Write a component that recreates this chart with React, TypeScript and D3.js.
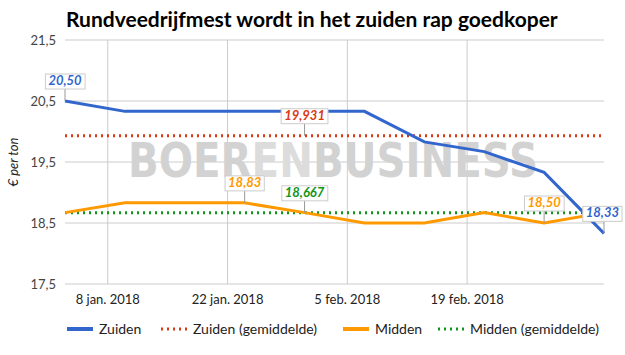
import React, { useEffect, useRef } from 'react';
import * as d3 from 'd3';

// weekly prices (€ per ton)
const dates = ['2018-01-03', '2018-01-10', '2018-01-17', '2018-01-24', '2018-01-31', '2018-02-07', '2018-02-14', '2018-02-21', '2018-02-28', '2018-03-07'];
const zuiden = [20.5, 20.33, 20.33, 20.33, 20.33, 20.33, 19.83, 19.67, 19.33, 18.33];
const midden = [18.67, 18.83, 18.83, 18.83, 18.67, 18.5, 18.5, 18.67, 18.5, 18.67];
const yTicks = [17.5, 18.5, 19.5, 20.5, 21.5];
const xTicks = ['2018-01-08', '2018-01-22', '2018-02-05', '2018-02-19'];
const seriesNames = ['Zuiden', 'Zuiden (gemiddelde)', 'Midden', 'Midden (gemiddelde)'];

const W = 625;
const H = 355;
const FONT = 'Lato, "DejaVu Sans", sans-serif';

const nl = (v: number, d: number) => v.toFixed(d).replace('.', ',');
const parse = d3.timeParse('%Y-%m-%d');
const months = ['jan.', 'feb.', 'mrt.', 'apr.', 'mei', 'jun.', 'jul.', 'aug.', 'sep.', 'okt.', 'nov.', 'dec.'];

const App = () => {
  const ref = useRef<SVGSVGElement>(null);

  useEffect(() => {
    const svg = d3.select(ref.current);
    svg.selectAll('*').remove();

    const margin = { top: 40, right: 21, bottom: 71, left: 65 };
    const x = d3.scaleTime()
      .domain([parse(dates[0])!, parse(dates[dates.length - 1])!])
      .range([margin.left, W - margin.right]);
    const y = d3.scaleLinear()
      .domain([17.5, 21.5])
      .range([H - margin.bottom, margin.top]);

    const colors = ['#3366cc', '#dc3912', '#ff9900', '#109618'];

    // title
    svg.append('text')
      .attr('x', 66)
      .attr('y', 27)
      .attr('font-family', FONT)
      .attr('font-weight', 'bold')
      .attr('font-size', 21)
      .attr('fill', '#000')
      .text('Rundveedrijfmest wordt in het zuiden rap goedkoper');

    // grid
    const grid = svg.append('g');
    grid.selectAll('line.h')
      .data(yTicks)
      .join('line')
      .attr('x1', margin.left)
      .attr('x2', W - margin.right)
      .attr('y1', d => y(d))
      .attr('y2', d => y(d))
      .attr('stroke', '#cccccc');
    grid.selectAll('line.v')
      .data(xTicks)
      .join('line')
      .attr('x1', d => x(parse(d)!))
      .attr('x2', d => x(parse(d)!))
      .attr('y1', margin.top)
      .attr('y2', H - margin.bottom)
      .attr('stroke', '#cccccc');

    // axis labels
    svg.append('g')
      .selectAll('text')
      .data(yTicks)
      .join('text')
      .attr('x', 56)
      .attr('y', d => y(d) + 4.5)
      .attr('text-anchor', 'end')
      .attr('font-family', FONT)
      .attr('font-size', 13)
      .attr('fill', '#444')
      .text(d => nl(d, 1));

    svg.append('g')
      .selectAll('text')
      .data(xTicks)
      .join('text')
      .attr('x', d => x(parse(d)!))
      .attr('y', 304)
      .attr('text-anchor', 'middle')
      .attr('font-family', FONT)
      .attr('font-size', 13)
      .attr('fill', '#222')
      .text(d => {
        const t = parse(d)!;
        return `${t.getDate()} ${months[t.getMonth()]} ${t.getFullYear()}`;
      });

    svg.append('text')
      .attr('transform', `translate(18,${y(19.5)}) rotate(-90)`)
      .attr('text-anchor', 'middle')
      .attr('font-family', FONT)
      .attr('font-style', 'italic')
      .attr('font-size', 13)
      .attr('fill', '#222')
      .text('€ per ton');

    // watermark
    const wm = svg.append('text')
      .attr('x', 128)
      .attr('y', 177)
      .attr('font-family', '"DejaVu Sans", sans-serif')
      .attr('font-size', 48)
      .attr('font-weight', 'bold')
      .attr('fill', '#d2d2d2')
      .attr('textLength', 410)
      .attr('lengthAdjust', 'spacingAndGlyphs');
    wm.append('tspan').text('BOER');
    wm.append('tspan').attr('fill', '#dcdcdc').text('EN');
    wm.append('tspan').text('BUSINESS');

    // lines
    const zAvg = d3.mean(zuiden)!;
    const mAvg = d3.mean(midden)!;
    const line = d3.line<number>()
      .x((_, i) => x(parse(dates[i])!))
      .y(d => y(d));

    const avgLine = (v: number, c: string) => svg.append('line')
      .attr('x1', margin.left)
      .attr('x2', W - margin.right)
      .attr('y1', y(v))
      .attr('y2', y(v))
      .attr('stroke', c)
      .attr('stroke-width', 3)
      .attr('stroke-dasharray', '2,4');

    avgLine(zAvg, colors[1]);
    avgLine(mAvg, colors[3]);

    svg.append('path')
      .attr('d', line(zuiden))
      .attr('fill', 'none')
      .attr('stroke', colors[0])
      .attr('stroke-width', 3);
    svg.append('path')
      .attr('d', line(midden))
      .attr('fill', 'none')
      .attr('stroke', colors[2])
      .attr('stroke-width', 3);

    // annotations
    const notes = [
      { i: 0, v: zuiden[0], t: nl(zuiden[0], 2), c: colors[0] },
      { i: 4, v: zAvg, t: nl(zAvg, 3), c: colors[1] },
      { i: 3, v: midden[3], t: nl(midden[3], 2), c: colors[2] },
      { i: 4, v: mAvg, t: nl(mAvg, 3), c: colors[3] },
      { i: 8, v: midden[8], t: nl(midden[8], 2), c: colors[2] },
      { i: 9, v: zuiden[9], t: nl(zuiden[9], 2), c: colors[0] },
    ];
    notes.forEach(n => {
      const px = x(parse(dates[n.i])!);
      const py = y(n.v);
      const g = svg.append('g');
      g.append('line')
        .attr('x1', px).attr('x2', px)
        .attr('y1', py).attr('y2', py - 12)
        .attr('stroke', '#999');
      const txt = g.append('text')
        .attr('x', px)
        .attr('y', py - 16)
        .attr('text-anchor', 'middle')
        .attr('font-family', FONT)
        .attr('font-size', 13)
        .attr('font-style', 'italic')
        .attr('font-weight', 'bold')
        .attr('fill', n.c)
        .text(n.t);
      let bb = (txt.node() as SVGTextElement).getBBox();
      const over = bb.x + bb.width + 4 - (W - 2);
      if (over > 0) {
        txt.attr('x', px - over);
        bb = (txt.node() as SVGTextElement).getBBox();
      }
      g.insert('rect', 'text')
        .attr('x', bb.x - 3)
        .attr('y', py - 27)
        .attr('width', bb.width + 6)
        .attr('height', 15)
        .attr('fill', '#fff')
        .attr('stroke', '#cccccc');
    });

    // legend
    const legX = [67, 161, 343, 438];
    const leg = svg.append('g');
    seriesNames.forEach((name, i) => {
      leg.append('line')
        .attr('x1', legX[i])
        .attr('x2', legX[i] + 26)
        .attr('y1', 329)
        .attr('y2', 329)
        .attr('stroke', colors[i])
        .attr('stroke-width', i % 2 === 0 ? 4 : 3)
        .attr('stroke-dasharray', i % 2 === 0 ? null : '2,4');
      leg.append('text')
        .attr('x', legX[i] + 32)
        .attr('y', 334)
        .attr('font-family', FONT)
        .attr('font-size', 14)
        .attr('fill', '#222')
        .text(name);
    });
  }, []);

  return (
    <svg
      ref={ref}
      width={W}
      height={H}
      style={{ display: 'block', position: 'absolute', left: 0, top: 0, background: '#fff' }}
    />
  );
};

export default App;
